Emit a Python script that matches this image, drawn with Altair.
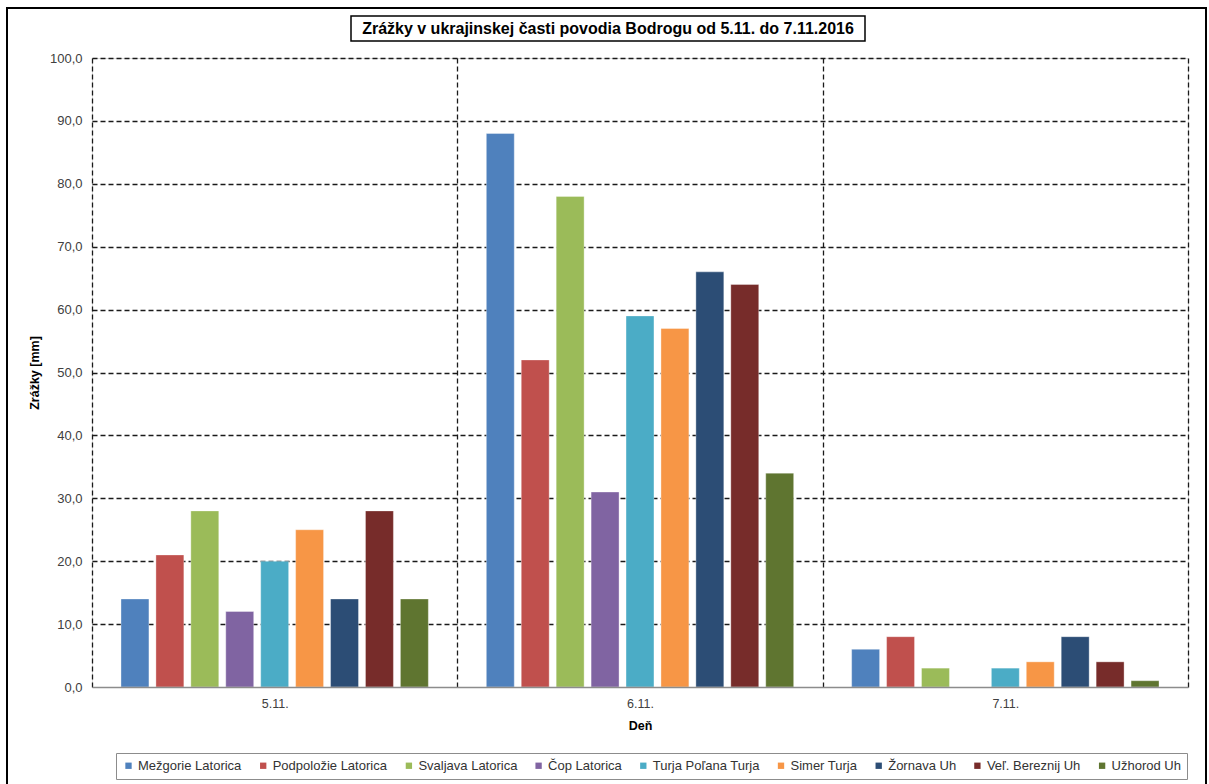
import altair as alt
import pandas as pd

TITLE = "Zrážky v ukrajinskej časti povodia Bodrogu od 5.11. do 7.11.2016"
dates = ["5.11.", "6.11.", "7.11."]
stations = [
    "Mežgorie Latorica", "Podpoložie Latorica", "Svaljava Latorica",
    "Čop Latorica", "Turja Poľana Turja", "Simer Turja",
    "Žornava Uh", "Veľ. Bereznij Uh", "Užhorod Uh",
]
colors = ["#4F81BD", "#C0504D", "#9BBB59", "#8064A2", "#4BACC6",
          "#F79646", "#2C4D75", "#772C2A", "#5F7530"]
vals_5 = [14, 21, 28, 12, 20, 25, 14, 28, 14]
vals_6 = [88, 52, 78, 31, 59, 57, 66, 64, 34]
vals_7 = [6, 8, 3, 0, 3, 4, 8, 4, 1]
y_ticks = [0, 10, 20, 30, 40, 50, 60, 70, 80, 90, 100]

rows = []
for d, vals in zip(dates, [vals_5, vals_6, vals_7]):
    for s, v in zip(stations, vals):
        rows.append({"Deň": d, "Stanica": s, "Zrážky": v})
df = pd.DataFrame(rows)

FONT = "Liberation Sans"

bars = alt.Chart(df).mark_bar(stroke="white", strokeOpacity=0.35, strokeWidth=1).encode(
    x=alt.X("Deň:N", sort=dates, title="Deň",
            scale=alt.Scale(paddingInner=0, paddingOuter=0),
            axis=alt.Axis(labelAngle=0, ticks=False, grid=True, tickBand="extent",
                          domainColor="#8c8c8c", domainWidth=1.5,
                          gridColor="#1a1a1a", gridDash=[5, 3], gridWidth=1.3,
                          labelFontSize=12.5, labelColor="#404040", labelPadding=10,
                          titleFontSize=12.5, titleFontWeight="bold", titlePadding=10,
                          labelFont=FONT, titleFont=FONT, zindex=1)),
    xOffset=alt.XOffset("Stanica:N", sort=stations,
                        scale=alt.Scale(paddingInner=0.2, paddingOuter=0.83)),
    y=alt.Y("Zrážky:Q", title="Zrážky [mm]",
            scale=alt.Scale(domain=[0, 100], nice=False),
            axis=alt.Axis(values=y_ticks, ticks=False, domain=False,
                          labelExpr="replace(format(datum.value, '.1f'), '.', ',')",
                          gridColor="#1a1a1a", gridDash=[5, 3], gridWidth=1.3,
                          gridOpacity={"condition": {"test": "datum.value === 0", "value": 0},
                                       "value": 1},
                          labelFontSize=13, labelColor="#404040", labelPadding=10,
                          titleFontSize=12.5, titleFontWeight="bold", titlePadding=8,
                          labelFont=FONT, titleFont=FONT)),
    color=alt.Color("Stanica:N", sort=stations,
                    scale=alt.Scale(domain=stations, range=colors),
                    legend=alt.Legend(title=None, orient="none", legendX=24, legendY=695,
                                      direction="horizontal", symbolType="square",
                                      symbolSize=40, symbolStrokeWidth=0,
                                      labelFontSize=13, labelFont=FONT, labelColor="#333333",
                                      labelOffset=3, columnPadding=14.7,
                                      padding=6, strokeColor="#8c8c8c",
                                      fillColor="white")),
)

one = pd.DataFrame({"k": [0]})

outer = alt.Chart(one).mark_rect(fill="transparent", stroke="black", strokeWidth=2).encode(
    x=alt.value(-85), x2=alt.value(1114), y=alt.value(-50), y2=alt.value(760)
)
title_box = alt.Chart(one).mark_rect(fill="white", stroke="black", strokeWidth=1.5).encode(
    x=alt.value(259), x2=alt.value(773), y=alt.value(-42), y2=alt.value(-17)
)
title_text = alt.Chart(one).mark_text(
    font=FONT, fontSize=16, fontWeight="bold", align="center", baseline="middle", color="black"
).encode(x=alt.value(516), y=alt.value(-29), text=alt.value(TITLE))

chart = alt.layer(outer, title_box, title_text, bars).properties(
    width=1096, height=629,
    padding={"left": 92, "top": 58, "right": 21, "bottom": 97},
    autosize=alt.AutoSizeParams(type="none"),
).configure_view(stroke="transparent").configure(background="white")

chart.save("out.html", embed_options={"renderer": "svg", "actions": False})
